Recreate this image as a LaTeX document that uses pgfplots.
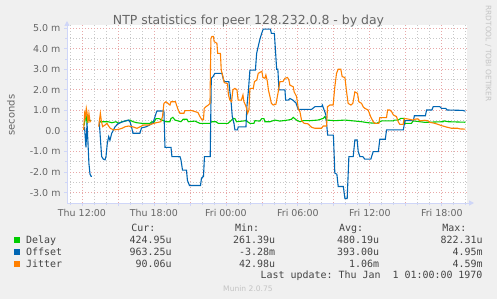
\documentclass[border=0pt]{standalone}
\usepackage{fontspec}
\setmainfont{DejaVu Sans}
\setmonofont{DejaVu Sans Mono}
\usepackage{pgfplots}
\usepackage{pgfplotstable}
\pgfplotsset{compat=1.18}
\usetikzlibrary{arrows.meta}

\definecolor{bg}{HTML}{F0F0F0}
\definecolor{fontc}{HTML}{666666}
\definecolor{legc}{HTML}{444444}
\definecolor{faint}{HTML}{C4C4C4}
\definecolor{axisc}{HTML}{CFD6F8}
\definecolor{mgridc}{HTML}{E8A8A8}
\definecolor{gridc}{HTML}{C8C8C8}
\definecolor{cdelay}{HTML}{00CC00}
\definecolor{coffset}{HTML}{0066B3}
\definecolor{cjitter}{HTML}{FF8000}

% hours since Thu 00:00, values in milliseconds
\pgfplotstableread{
h v
12.17 0.26
12.33 0.8
12.42 0.4
12.5 0.53
12.75 0.5
13.0 nan
13.46 0.4
13.53 0.45
14.17 0.45
14.5 0.4
14.83 0.45
15.08 0.37
15.33 0.45
15.75 0.5
16.0 0.53
16.25 0.45
16.58 0.4
17.0 0.37
17.67 0.37
17.83 0.45
18.0 0.42
18.17 0.6
18.42 0.6
18.67 0.53
19.0 0.45
19.33 0.45
19.42 0.61
19.58 0.66
19.75 0.53
20.25 0.45
20.44 0.57
20.75 0.57
20.86 0.45
21.42 0.48
21.83 0.37
22.67 0.37
22.81 0.45
23.17 0.45
23.36 0.37
24.17 0.37
24.42 0.5
24.61 0.61
24.75 0.6
24.89 0.45
25.67 0.5
26.0 0.37
26.33 0.37
26.42 0.5
26.83 0.48
26.98 0.6
27.17 0.6
27.25 0.45
27.67 0.45
28.08 0.53
28.5 0.48
29.17 0.53
29.47 0.57
29.61 0.66
29.89 0.53
30.17 0.45
30.44 0.5
31.0 0.5
31.67 0.53
32.11 0.61
32.25 0.7
32.39 0.53
33.08 0.5
33.92 0.53
34.61 0.49
35.31 0.45
35.86 0.4
36.56 0.37
36.98 0.49
37.94 0.49
38.04 0.53
38.36 0.53
38.58 0.61
38.86 0.61
38.92 0.37
39.47 0.37
39.61 0.49
40.58 0.42
42.11 0.45
42.17 0.49
42.53 0.45
43.97 0.425
}\delaydata

\pgfplotstableread{
h v
12.21 0.2
12.33 -0.8
12.42 0.4
12.5 -0.6
12.58 -1.6
12.67 -2.1
12.75 -2.2
12.83 -2.2
13.1 nan
13.44 0.45
13.56 -0.6
13.64 -1.24
13.78 -1.37
13.92 -1.4
14.0 -1.25
14.11 -0.6
14.23 -0.27
14.33 -0.45
14.48 -0.11
14.58 0.0
14.75 0.2
15.03 0.37
15.42 0.45
15.67 0.5
15.86 0.53
16.0 0.45
16.13 0.2
16.25 -0.11
16.83 -0.11
16.96 0.15
17.33 0.2
17.67 0.3
17.92 0.4
18.0 0.53
18.17 0.85
18.25 0.97
18.83 0.97
18.92 -0.8
19.42 -0.8
19.5 -1.25
20.17 -1.25
20.25 -1.4
20.38 -1.9
20.71 -1.9
20.79 -2.4
20.96 -2.65
21.88 -2.65
21.96 -2.3
22.13 -2.2
22.21 -1.25
22.69 -1.25
22.78 2.56
22.92 2.64
23.08 2.8
23.67 2.8
23.79 2.5
23.88 2.4
24.25 2.4
24.33 1.9
24.42 1.5
24.53 0.7
24.67 0.37
24.75 0.05
24.96 0.05
25.03 0.2
25.67 0.2
25.75 1.2
25.88 2.0
26.0 2.96
26.46 2.96
26.56 3.77
26.69 4.1
26.83 4.45
26.98 4.74
27.11 4.95
27.71 4.95
27.79 4.74
28.04 4.74
28.23 3.0
28.33 3.0
28.42 2.0
28.92 2.0
28.98 1.5
29.19 1.5
29.33 1.58
29.58 1.5
29.83 1.37
30.03 1.05
31.14 1.05
31.25 1.1
31.42 1.18
31.98 1.18
32.04 1.26
32.19 1.02
32.33 0.78
32.48 -0.2
32.96 -0.2
33.08 -2.05
33.25 -2.1
33.36 -2.7
33.79 -2.7
33.92 -3.28
34.11 -3.28
34.25 -1.25
34.61 -1.25
34.75 -0.44
34.94 -0.44
35.03 -1.0
35.17 -1.25
35.42 -1.25
35.58 -1.37
36.08 -1.37
36.28 -1.0
36.71 -1.0
36.83 -0.4
37.29 -0.4
37.39 0.05
38.79 0.05
38.92 0.5
39.63 0.5
39.71 0.74
40.63 0.74
40.73 1.02
41.17 1.02
41.28 1.18
41.83 1.18
41.97 1.1
42.33 1.1
42.42 1.02
43.75 1.0
43.97 0.96
}\offsetdata

\pgfplotstableread{
h v
12.14 0.05
12.22 0.86
12.29 0.7
12.36 1.1
12.42 0.9
12.5 0.4
12.58 0.85
12.67 0.45
12.75 0.5
13.0 nan
13.39 0.21
13.53 0.86
13.61 0.5
13.72 0.21
13.92 0.29
14.08 0.37
14.21 0.25
14.36 0.13
14.64 0.05
15.06 0.08
15.33 0.13
15.61 0.21
15.89 0.24
16.25 0.2
16.58 0.13
16.86 0.21
17.14 0.29
17.58 0.29
17.83 0.34
18.17 0.4
18.58 0.45
18.71 0.7
18.83 1.34
19.0 1.42
19.17 1.34
19.33 1.26
19.42 1.42
19.79 1.42
19.88 1.26
20.02 1.02
20.17 0.86
20.5 0.86
20.58 0.99
21.17 0.99
21.42 0.94
21.67 0.9
21.83 0.7
22.02 0.53
22.13 0.55
22.19 1.1
22.33 1.18
22.53 1.26
22.67 1.34
22.75 4.5
22.83 4.59
22.96 4.59
23.02 4.34
23.25 4.26
23.31 3.77
23.54 3.77
23.61 2.96
23.75 2.64
23.86 2.35
24.13 2.3
24.21 1.75
24.33 1.5
24.47 1.42
24.58 2.0
24.75 2.07
24.92 2.0
25.02 1.5
25.29 1.5
25.42 1.75
25.5 1.42
25.63 1.26
25.72 1.1
25.81 0.86
25.92 1.02
26.0 2.07
26.28 2.07
26.38 2.4
26.58 2.48
26.69 2.8
27.0 2.9
27.08 2.6
27.25 2.56
27.33 2.72
27.46 2.4
27.54 2.0
27.67 1.67
27.79 1.34
27.94 1.26
28.17 1.3
28.36 1.9
28.5 2.4
28.75 2.4
28.92 2.56
29.13 2.6
29.25 2.48
29.33 2.23
29.61 2.15
29.69 1.9
29.89 1.67
30.03 1.1
30.17 0.94
30.31 0.5
30.53 0.37
30.83 0.35
31.14 0.18
31.42 0.13
31.97 0.13
32.11 0.24
32.39 0.24
32.47 1.18
32.67 1.26
32.94 1.26
33.08 2.15
33.22 2.8
33.36 3.0
33.58 3.0
33.69 2.64
33.92 2.6
34.06 1.9
34.19 1.34
34.42 1.26
34.58 1.34
34.75 1.9
34.97 1.83
35.08 1.42
35.31 1.34
35.44 1.18
35.58 1.1
35.86 1.02
36.06 0.7
36.28 0.45
36.42 0.37
36.75 0.37
36.83 0.65
37.39 0.65
37.48 1.02
37.67 1.02
37.81 0.94
37.96 0.78
38.22 0.7
38.36 0.45
38.5 0.32
38.78 0.32
38.86 0.61
39.19 0.58
39.58 0.53
39.83 0.58
40.03 0.58
40.17 0.49
40.58 0.52
40.86 0.49
41.0 0.42
41.42 0.37
41.69 0.32
41.97 0.26
42.39 0.19
42.81 0.13
43.33 0.13
43.5 0.1
43.97 0.09
}\jitterdata

\begin{document}
\begin{tikzpicture}[x=1bp,y=1bp]
\fill[bg] (0,0) rectangle (497,299);
\begin{axis}[
  at={(67bp,96bp)}, anchor=south west,
  width=400bp, height=178bp, scale only axis,
  xmin=10.75, xmax=44.1, ymin=-3.5, ymax=5.15,
  axis lines=left,
  axis line style={draw=axisc, line width=1bp, -{Triangle[length=5bp,width=5bp]}},
  x axis line style={shorten >=-7bp},
  y axis line style={shorten >=-4bp},
  axis background/.style={fill=white},
  unbounded coords=jump,
  xtick={12,15,...,42},
  xticklabels={Thu 12:00,,Thu 18:00,,Fri 00:00,,Fri 06:00,,Fri 12:00,,Fri 18:00},
  minor xtick={11,13,14,16,17,19,20,22,23,25,26,28,29,31,32,34,35,37,38,40,41,43,44},
  ytick={-3,-2,-1,0,1,2,3,4,5},
  yticklabels={-3.0 m,-2.0 m,-1.0 m,0.0,1.0 m,2.0 m,3.0 m,4.0 m,5.0 m},
  minor ytick={-2.5,-1.5,-0.5,0.5,1.5,2.5,3.5,4.5},
  grid=both,
  major grid style={draw=mgridc, dash pattern=on 1bp off 2bp, line width=0.8bp},
  minor grid style={draw=gridc, dash pattern=on 1bp off 2bp, line width=0.8bp},
  tick align=outside,
  major tick length=3bp, minor tick length=2bp,
  tick style={draw=axisc, line width=0.8bp},
  ticklabel style={font=\fontsize{9.5}{11}\selectfont, text=fontc},
]
\addplot[cdelay, line width=1.1bp] table[x=h,y=v] {\delaydata};
\addplot[coffset, line width=1.1bp] table[x=h,y=v] {\offsetdata};
\addplot[cjitter, line width=1.1bp] table[x=h,y=v] {\jitterdata};
\end{axis}

% title, axis label, watermark
\node[anchor=base, font=\fontsize{12.5}{14}\selectfont, text=fontc] at (248.5,275) {NTP statistics for peer 128.232.0.8 - by day};
\node[rotate=90, font=\fontsize{10}{12}\selectfont, text=fontc] at (11,184) {seconds};
\node[rotate=-90, font=\fontsize{7.5}{9}\selectfont, text=faint] at (488.3,245.5) {RRDTOOL / TOBI OETIKER};

% legend table
\begin{scope}[font=\fontsize{10}{12}\ttfamily, text=legc]
\node[anchor=base east] at (159,67.9) {Cur:};
\node[anchor=base east] at (262.7,67.9) {Min:};
\node[anchor=base east] at (366.7,67.9) {Avg:};
\node[anchor=base east] at (470,67.9) {Max:};

\fill[cdelay] (14,56.5) rectangle (20,62.5);
\fill[coffset] (14,44.5) rectangle (20,50.5);
\fill[cjitter] (14,32.5) rectangle (20,38.5);

\node[anchor=base west, inner sep=0pt] at (26,55.9) {Delay};
\node[anchor=base west, inner sep=0pt] at (26,43.9) {Offset};
\node[anchor=base west, inner sep=0pt] at (26,31.9) {Jitter};

\node[anchor=base east, inner sep=0pt] at (171.7,55.9) {424.95u};
\node[anchor=base east, inner sep=0pt] at (275.3,55.9) {261.39u};
\node[anchor=base east, inner sep=0pt] at (379.3,55.9) {480.19u};
\node[anchor=base east, inner sep=0pt] at (482.7,55.9) {822.31u};

\node[anchor=base east, inner sep=0pt] at (171.7,43.9) {963.25u};
\node[anchor=base east, inner sep=0pt] at (275.3,43.9) {-3.28m};
\node[anchor=base east, inner sep=0pt] at (379.3,43.9) {393.00u};
\node[anchor=base east, inner sep=0pt] at (482.7,43.9) {4.95m};

\node[anchor=base east, inner sep=0pt] at (171.7,31.9) {90.06u};
\node[anchor=base east, inner sep=0pt] at (275.3,31.9) {42.98u};
\node[anchor=base east, inner sep=0pt] at (379.3,31.9) {1.06m};
\node[anchor=base east, inner sep=0pt] at (482.7,31.9) {4.59m};

\node[anchor=base east, inner sep=0pt] at (482.7,20.1) {Last update: Thu Jan\ \ 1 01:00:00 1970};
\end{scope}
\node[anchor=base, font=\fontsize{7.6}{9}\selectfont, text=faint] at (248,7.9) {Munin 2.0.75};
\end{tikzpicture}
\end{document}
